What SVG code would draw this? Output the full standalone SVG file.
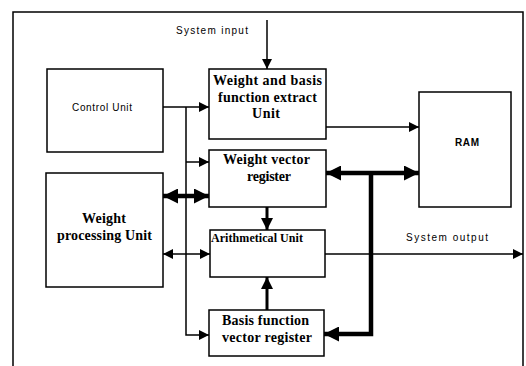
<svg xmlns="http://www.w3.org/2000/svg" width="526" height="366" viewBox="0 0 526 366">
<style>
.box{fill:#fff;stroke:#000;stroke-width:1.5}
.ln{fill:none;stroke:#000;stroke-width:1.5}
.tk{fill:none;stroke:#000;stroke-width:4.5}
.md{fill:none;stroke:#000;stroke-width:3}
.s{font-family:"Liberation Sans",Arial,sans-serif;font-size:10px;fill:#000}
.r{font-family:"Liberation Serif","Times New Roman",serif;font-size:14px;font-weight:bold;fill:#000}
</style>
<defs>
<marker id="a" markerUnits="userSpaceOnUse" markerWidth="10" markerHeight="10" viewBox="0 0 10 10" refX="10" refY="5" orient="auto-start-reverse"><path d="M0,0 L10,5 L0,10 z" fill="#000"/></marker>
<marker id="b" markerUnits="userSpaceOnUse" markerWidth="15" markerHeight="15" viewBox="0 0 15 15" refX="15" refY="7.5" orient="auto-start-reverse"><path d="M0,0 L15,7.5 L0,15 z" fill="#000"/></marker>
<marker id="c" markerUnits="userSpaceOnUse" markerWidth="12" markerHeight="12" viewBox="0 0 12 12" refX="12" refY="6" orient="auto-start-reverse"><path d="M0,0 L12,6 L0,12 z" fill="#000"/></marker>
</defs>
<rect width="526" height="366" fill="#fff"/>
<path class="ln" d="M13,366 V12 H523 V366"/>
<g id="connectors">
<path class="ln" d="M267,20 V69" marker-end="url(#a)"/>
<path class="ln" d="M163,107 H209" marker-end="url(#a)"/>
<path class="ln" d="M186,107 V335 H209" marker-end="url(#a)"/>
<path class="ln" d="M186,162 H209" marker-end="url(#a)"/>
<path class="tk" d="M163,196 H209" marker-start="url(#b)" marker-end="url(#b)"/>
<path class="ln" d="M163,254 H210" marker-start="url(#a)" marker-end="url(#a)"/>
<path class="md" d="M267,207 V230" marker-end="url(#c)"/>
<path class="md" d="M267,310 V277" marker-end="url(#c)"/>
<path class="ln" d="M326,127 H419" marker-end="url(#a)"/>
<path class="tk" d="M326,173 H419" marker-start="url(#b)" marker-end="url(#b)"/>
<path class="tk" d="M371,173 V334 H324" marker-end="url(#b)"/>
<path class="ln" d="M325,254 H523" marker-end="url(#a)"/>
<text class="s" x="176" y="34" textLength="72">System input</text>
<text class="s" x="406" y="241" textLength="82">System output</text>
</g>
<g id="control-unit">
<rect class="box" x="47" y="69" width="116" height="83"/>
<text class="s" x="72" y="111" textLength="60">Control Unit</text>
</g>
<g id="weight-processing-unit">
<rect class="box" x="46" y="173" width="117" height="114"/>
<text class="r" x="82" y="223" textLength="44">Weight</text>
<text class="r" x="57" y="240" textLength="95">processing Unit</text>
</g>
<g id="extract-unit">
<rect class="box" x="209" y="69" width="117" height="70"/>
<text class="r" x="213" y="85" textLength="109">Weight and basis</text>
<text class="r" x="218" y="102" textLength="99">function extract</text>
<text class="r" x="252" y="118" textLength="28">Unit</text>
</g>
<g id="weight-vector-register">
<rect class="box" x="209" y="150" width="117" height="57"/>
<text class="r" x="223" y="164" textLength="87">Weight vector</text>
<text class="r" x="247" y="181" textLength="44">register</text>
</g>
<g id="arithmetical-unit">
<rect class="box" x="210" y="230" width="115" height="47"/>
<text class="r" x="211" y="242" style="font-size:12px" textLength="92">Arithmetical Unit</text>
</g>
<g id="basis-function-vector-register">
<rect class="box" x="209" y="310" width="115" height="46"/>
<text class="r" x="222" y="325" textLength="87">Basis function</text>
<text class="r" x="222" y="342" textLength="90">vector register</text>
</g>
<g id="ram">
<rect class="box" x="419" y="92" width="92" height="115"/>
<text class="s" x="455" y="146" textLength="24" font-weight="bold">RAM</text>
</g>
</svg>
